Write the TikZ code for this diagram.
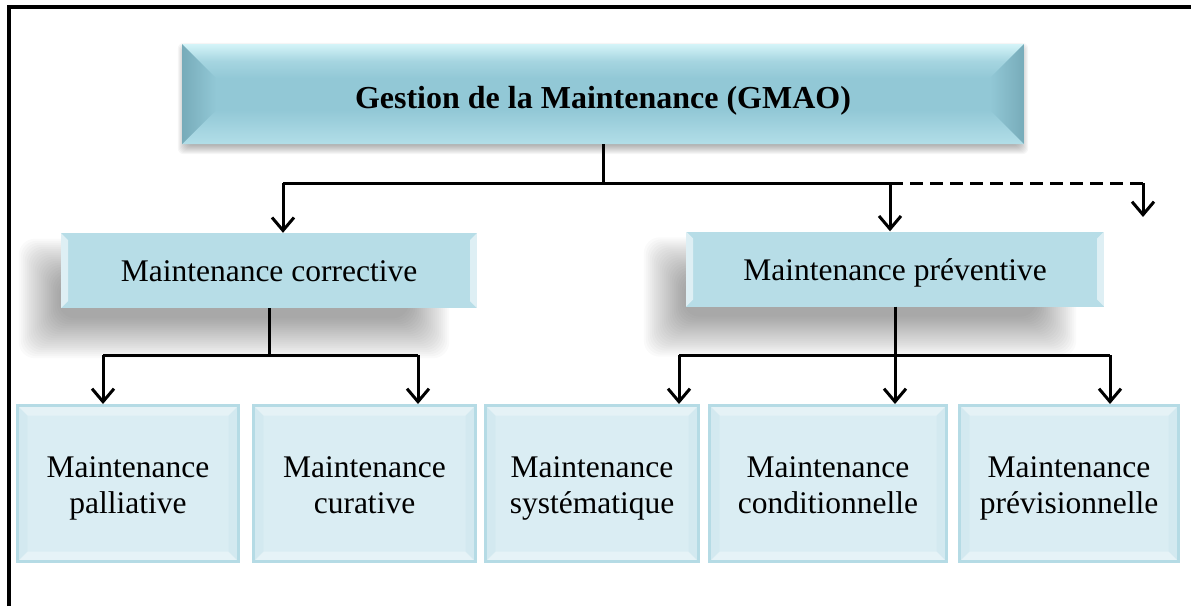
\documentclass[tikz,border=0pt]{standalone}
\usepackage{fontspec}
\setmainfont{Liberation Serif}
\usetikzlibrary{arrows.meta,calc,backgrounds}

\definecolor{topmain}{HTML}{92C8D6}
\definecolor{toplight}{HTML}{D4F4F8}
\definecolor{topbottom}{HTML}{B2DEE8}
\definecolor{topdark}{HTML}{77ABB9}
\definecolor{midfill}{HTML}{B7DDE7}
\definecolor{botfill}{HTML}{DAEDF3}
\definecolor{botedge}{HTML}{B5DBE5}
\definecolor{botside}{HTML}{C6E3EB}

% tall strut for the first line of the two-line labels
\newcommand{\firstline}{\rule{0pt}{35pt}}

\tikzset{
  lbl/.style={font=\fontsize{31.5}{36}\selectfont, align=center, inner sep=0pt, text=black},
  % large bevelled title box
  topbox/.style={lbl, font=\bfseries\fontsize{32}{36}\selectfont,
    minimum width=842pt, minimum height=100pt, fill=topmain,
    text height=35pt, text depth=7pt,
    path picture={
      \coordinate (bbnw) at (path picture bounding box.north west);
      \coordinate (bbne) at (path picture bounding box.north east);
      \coordinate (bbsw) at (path picture bounding box.south west);
      \coordinate (bbse) at (path picture bounding box.south east);
      \shade[top color=toplight, bottom color=topmain, middle color=topmain!70!toplight]
        (bbnw) -- (bbne) -- ($(bbne)+(-34pt,-34pt)$) -- ($(bbnw)+(34pt,-34pt)$) -- cycle;
      \shade[bottom color=topbottom, top color=topmain]
        (bbsw) -- (bbse) -- ($(bbse)+(-34pt,34pt)$) -- ($(bbsw)+(34pt,34pt)$) -- cycle;
      \shade[left color=topdark, right color=topmain]
        (bbnw) -- ($(bbnw)+(34pt,-34pt)$) -- ($(bbsw)+(34pt,34pt)$) -- (bbsw) -- cycle;
      \shade[right color=topdark, left color=topmain]
        (bbne) -- ($(bbne)+(-34pt,-34pt)$) -- ($(bbse)+(-34pt,34pt)$) -- (bbse) -- cycle;
    }},
  % second-level boxes with light side bevels
  midbox/.style={lbl, minimum height=75pt, fill=midfill, text height=29pt, text depth=7pt,
    path picture={
      \coordinate (bbnw) at (path picture bounding box.north west);
      \coordinate (bbne) at (path picture bounding box.north east);
      \coordinate (bbsw) at (path picture bounding box.south west);
      \coordinate (bbse) at (path picture bounding box.south east);
      \fill[white,opacity=0.55] (bbnw) -- ($(bbnw)+(7pt,-7pt)$) -- ($(bbsw)+(7pt,7pt)$) -- (bbsw) -- cycle;
      \fill[white,opacity=0.55] (bbne) -- ($(bbne)+(-7pt,-7pt)$) -- ($(bbse)+(-7pt,7pt)$) -- (bbse) -- cycle;
    }},
  % leaf boxes with a framed, softly bevelled look
  botbox/.style={lbl, minimum height=156pt, fill=botfill, draw=botedge, line width=3pt,
    path picture={
      \coordinate (bbnw) at (path picture bounding box.north west);
      \coordinate (bbne) at (path picture bounding box.north east);
      \coordinate (bbsw) at (path picture bounding box.south west);
      \coordinate (bbse) at (path picture bounding box.south east);
      \fill[white,opacity=0.3] (bbnw) -- (bbne) -- ($(bbne)+(-10pt,-10pt)$) -- ($(bbnw)+(10pt,-10pt)$) -- cycle;
      \fill[white,opacity=0.35] (bbsw) -- (bbse) -- ($(bbse)+(-10pt,10pt)$) -- ($(bbsw)+(10pt,10pt)$) -- cycle;
      \fill[botside,opacity=0.3] (bbnw) -- ($(bbnw)+(10pt,-10pt)$) -- ($(bbsw)+(10pt,10pt)$) -- (bbsw) -- cycle;
      \fill[botside,opacity=0.3] (bbne) -- ($(bbne)+(-10pt,-10pt)$) -- ($(bbse)+(-10pt,10pt)$) -- (bbse) -- cycle;
    }},
  conn/.style={line width=3pt, black},
  arr/.style={conn, -{Straight Barb[length=13pt,width=22pt,line width=3pt]}},
  dashconn/.style={conn, dash pattern=on 13pt off 7pt},
}

\begin{document}
\begin{tikzpicture}[x=1pt,y=-1pt]
\useasboundingbox (0,0) rectangle (1191,606);

% frame along the left and top edges
\draw[line width=4pt] (9,606) -- (9,7) -- (1191,7);

% boxes
\node[topbox] (gm) at (603,94) {Gestion de la Maintenance (GMAO)};
\node[midbox, minimum width=416pt] (mc) at (269,270.5) {Maintenance corrective};
\node[midbox, minimum width=418pt] (mp) at (895,269) {Maintenance préventive};

\node[botbox, minimum width=221pt] (bp) at (128,483.5) {\firstline Maintenance\strut\\palliative\strut};
\node[botbox, minimum width=222pt] (bc) at (364.5,483.5) {\firstline Maintenance\strut\\curative\strut};
\node[botbox, minimum width=213pt] (bs) at (592,483.5) {\firstline Maintenance\strut\\systématique\strut};
\node[botbox, minimum width=237pt] (bd) at (828,483.5) {\firstline Maintenance\strut\\conditionnelle\strut};
\node[botbox, minimum width=219pt] (bv) at (1069,483.5) {\firstline Maintenance\strut\\prévisionnelle\strut};

% soft shadows
\begin{pgfonlayer}{background}
  \foreach \i in {0,...,10}
    \fill[black,opacity=0.035,rounded corners=6pt]
      ($(gm.north west)+({-4+\i},{-1+\i})$) rectangle ($(gm.south east)+({4-\i},{10-\i})$);
  \foreach \n in {mc,mp}
    \foreach \i in {0,...,20}
      \fill[black,opacity=0.02,rounded corners=16pt]
        ($(\n.north west)+({-42+2*\i},{6+2*\i})$) rectangle ($(\n.south east)+({-28-2*\i},{50-2*\i})$);
\end{pgfonlayer}

% junction points
\coordinate (j0) at (603,183);
\coordinate (jL) at (283,183);
\coordinate (jR) at (890,183);
\coordinate (jD) at (1143,183);
\coordinate (tD) at (1143,217);
\coordinate (kc) at (269,355);
\coordinate (kcL) at (103,355);
\coordinate (kcR) at (418,355);
\coordinate (kp) at (895,355);
\coordinate (kpL) at (679,355);
\coordinate (kpR) at (1110,355);

% first level
\draw[conn] (gm.south) -- (j0);
\draw[conn] (jL) -- (jR);
\draw[arr] (jL) -- (jL |- mc.north);
\draw[arr] (jR) -- (jR |- mp.north);
\draw[dashconn] (jR) -- (jD);
\draw[arr] (jD) -- (tD);

% corrective branch
\draw[conn] (mc.south) -- (kc);
\draw[conn] (kcL) -- (kcR);
\draw[arr] (kcL) -- (kcL |- bp.north);
\draw[arr] (kcR) -- (kcR |- bc.north);

% preventive branch
\draw[conn] (mp.south) -- (kp);
\draw[conn] (kpL) -- (kpR);
\draw[arr] (kpL) -- (kpL |- bs.north);
\draw[arr] (kp) -- (kp |- bd.north);
\draw[arr] (kpR) -- (kpR |- bv.north);
\end{tikzpicture}
\end{document}
